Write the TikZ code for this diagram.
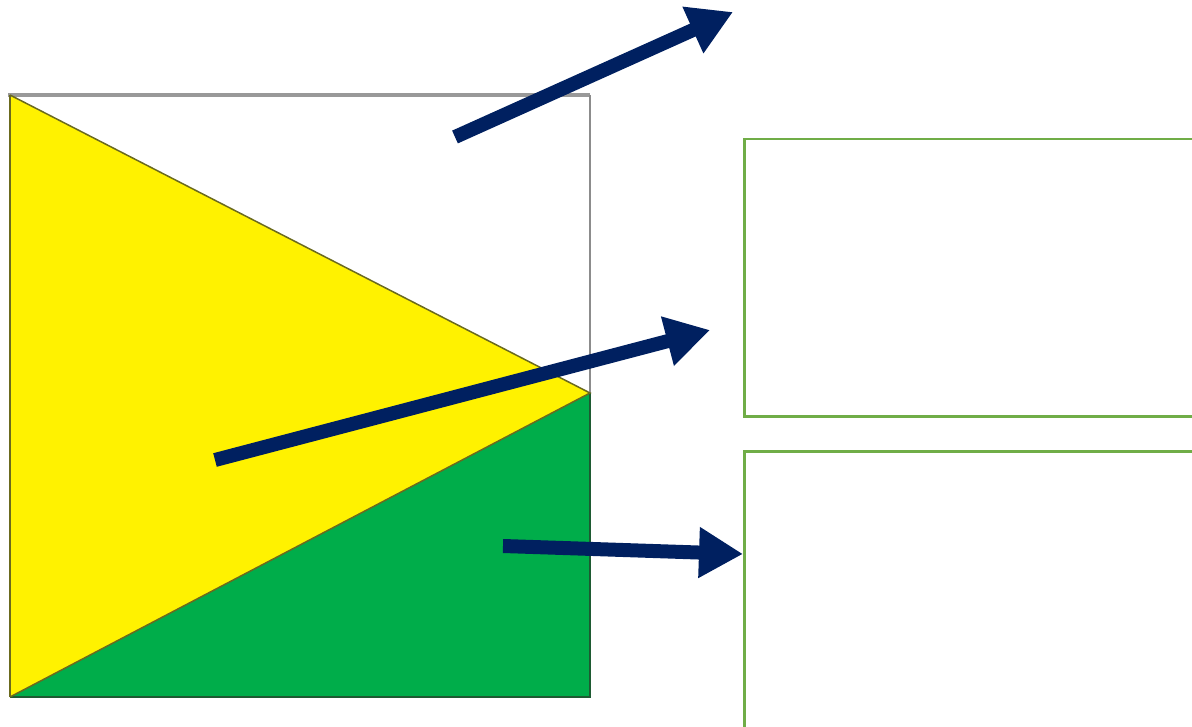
\documentclass[tikz,border=0pt]{standalone}
\usetikzlibrary{arrows.meta}
\definecolor{navy}{HTML}{002060}
\definecolor{boxgreen}{HTML}{70AD47}
\definecolor{fillgreen}{HTML}{00AD4A}
\definecolor{olive}{HTML}{6B6A1E}
\definecolor{darkgreen}{HTML}{1E5A32}
\tikzset{
  bigarrow/.style={draw=navy, line width=14pt, -{Triangle[length=44pt,width=48pt]}, shorten >=0pt},
  infobox/.style={draw=boxgreen, line width=2.5pt, fill=none, inner sep=0pt}
}
\begin{document}
\begin{tikzpicture}[x=1pt,y=-1pt]
\useasboundingbox (0,0) rectangle (1192,727);
% square corners
\coordinate (tl) at (10,95);
\coordinate (tr) at (590,95);
\coordinate (mr) at (590,393);
\coordinate (br) at (590,697);
\coordinate (bl) at (10,697);
% fills
\fill[yellow] (tl) -- (mr) -- (bl) -- cycle;
\fill[fillgreen] (bl) -- (mr) -- (br) -- cycle;
% outlines
\draw[gray!80, line width=4pt] (8,95) -- (tr);
\draw[gray!90, line width=2pt] (tr) -- (mr);
\draw[darkgreen, line width=2.5pt] (mr) -- (br) -- (bl);
\draw[olive, line width=2.5pt] (bl) -- (tl);
\draw[olive, line width=1.5pt] (tl) -- (mr) -- (bl);
% boxes
\node[infobox, minimum width=470pt, minimum height=277pt, anchor=north west] (box1) at (743,138) {};
\node[infobox, minimum width=470pt, minimum height=300pt, anchor=north west] (box2) at (743,450) {};
% arrows
\coordinate (a1s) at (455,137);
\coordinate (a1e) at (733,12);
\coordinate (a2s) at (215,460);
\coordinate (a2e) at (710,330);
\coordinate (a3s) at (503,546);
\coordinate (a3e) at (box2.west |- 0,554);
\draw[bigarrow] (a1s) -- (a1e);
\draw[bigarrow] (a2s) -- (a2e);
\draw[bigarrow] (a3s) -- (a3e);
\end{tikzpicture}
\end{document}
